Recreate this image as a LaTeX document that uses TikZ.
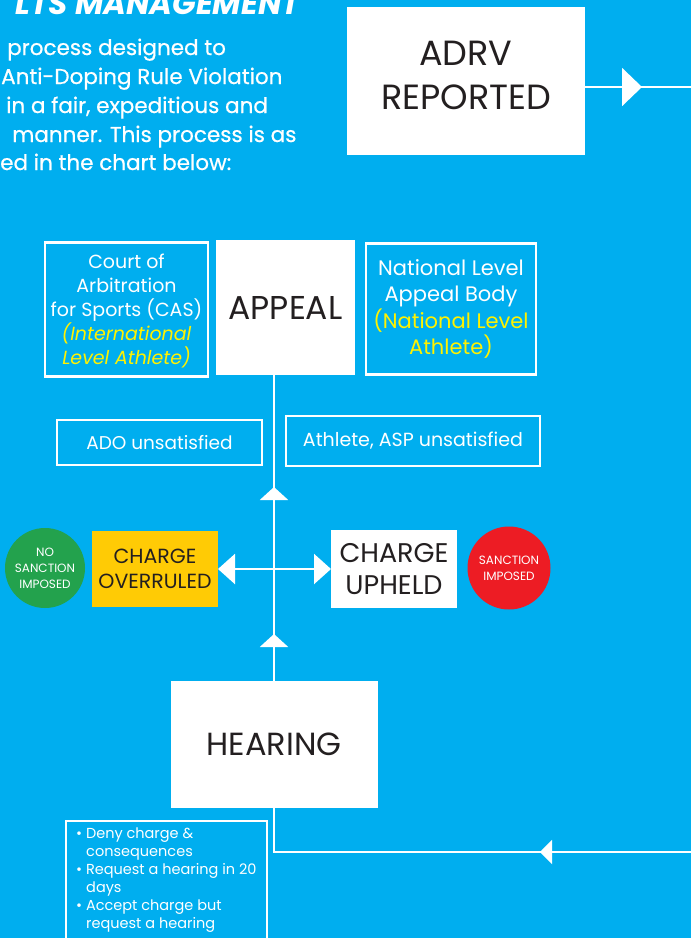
\documentclass[tikz,border=0pt]{standalone}
\usepackage{fontspec}
\setmainfont{Poppins}
\newfontfamily\medfont{Poppins}[FakeBold=0.6]
\usetikzlibrary{arrows.meta,decorations.markings}
\definecolor{sky}{HTML}{00AEEF}
\definecolor{ink}{HTML}{231F20}
\definecolor{lemon}{HTML}{FFF200}
\definecolor{amber}{HTML}{FFCB05}
\definecolor{leaf}{HTML}{23A24D}
\definecolor{alarm}{HTML}{ED1C24}
\newcommand{\pxsize}[2]{\fontsize{#1}{#2}\selectfont}
\tikzset{
  whitebox/.style={fill=white, text=ink, inner sep=0pt, outer sep=0pt, align=center},
  linebox/.style={draw=white, line width=2.4pt, text=white, inner sep=0pt, outer sep=0pt, align=center},
  intro/.style={anchor=base west, text=white, inner sep=0pt, font=\medfont\pxsize{21.5}{21.5}},
  flow/.style={draw=white, line width=2.2pt},
  dot/.style={circle, inner sep=0pt, outer sep=0pt, text=white, align=center, font=\pxsize{12}{16}},
  bigtip/.tip={Triangle[length=20pt,width=38pt]},
  uptip/.tip={Triangle[length=13pt,width=28pt]},
  sidetip/.tip={Triangle[length=17pt,width=30pt]},
  lefttip/.tip={Triangle[length=12pt,width=24pt]},
  midtip/.style 2 args={postaction={decorate},
    decoration={markings, mark=at position #1 with {\arrow{#2}}}}
}

\begin{document}
\begin{tikzpicture}[x=1pt, y=-1pt]
		%%%%% FRAME %%%%%
		\useasboundingbox (0,0) rectangle (691,938);
		\clip (0,0) rectangle (691,938);
		\fill[sky] (0,0) rectangle (691,938);
		
		%%%%% HEADING %%%%%
		\node[anchor=base east, text=white, inner sep=0pt, font=\pxsize{31}{31}\bfseries\itshape] (title) at (300,14)
			{LTS MANAGEMENT};
		\node[intro] (intro1) at (7,55) {process designed to};
		\node[intro] (intro2) at (1,84) {Anti-Doping Rule Violation};
		\node[intro] (intro3) at (6,113) {in a fair, expeditious and};
		\node[intro] (intro4) at (12,142) {manner. This process is as};
		\node[intro] (intro5) at (0,170) {ed in the chart below:};
		
		%%%%% BOXES %%%%%
		\node[whitebox, minimum width=238, minimum height=148] (adrv) at (466,81) {};
		\node[text=ink, inner sep=0pt, align=center, font=\pxsize{35}{44}] (adrvtext) at ([yshift=6pt]adrv.center)
			{ADRV\\REPORTED};
		
		\node[whitebox, minimum width=139, minimum height=135, font=\pxsize{33}{33}] (appeal) at (285.5,307.5)
			{APPEAL};
		\node[linebox, minimum width=163, minimum height=134, font=\pxsize{19}{24}, text depth=0pt] (cas) at (126.5,309.5)
			{Court of\\Arbitration\\for Sports (CAS)\\
			 \color{lemon}\itshape (International\\\color{lemon}\itshape Level Athlete)};
		\node[linebox, minimum width=170, minimum height=131, font=\pxsize{21}{26.5}] (national) at (451,309)
			{National Level\\Appeal Body\\
			 \color{lemon}(National Level\\\color{lemon}Athlete)};
		
		\node[linebox, minimum width=205, minimum height=45, font=\pxsize{18.5}{18.5}] (ado) at (159.5,442.5)
			{ADO unsatisfied};
		\node[linebox, minimum width=254, minimum height=50, font=\pxsize{19}{19}] (athlete) at (413,441)
			{Athlete, ASP unsatisfied};
		
		\node[whitebox, fill=amber, minimum width=126, minimum height=76, font=\pxsize{20.5}{25}] (overruled) at (155,569)
			{CHARGE\\OVERRULED};
		\node[whitebox, minimum width=126, minimum height=78, font=\pxsize{27}{32}] (upheld) at (394,569)
			{CHARGE\\UPHELD};
		\node[dot, fill=leaf, minimum size=80] (nosanction) at (45,568)
			{NO\\SANCTION\\IMPOSED};
		\node[dot, fill=alarm, minimum size=83] (sanction) at (509,568)
			{SANCTION\\IMPOSED};
		
		\node[whitebox, minimum width=207, minimum height=127, font=\pxsize{32}{32}] (hearing) at (274,744.5)
			{HEARING};
		
		\node[linebox, anchor=north, minimum width=201, minimum height=140] (optbox) at (166.5,821) {};
		\node[anchor=north west, text=white, inner sep=0pt, align=left, font=\pxsize{14.5}{18}] (optlist) at (76,828)
			{\textbullet\ Deny charge \&\\
			 \hspace*{10pt}consequences\\
			 \textbullet\ Request a hearing in 20\\
			 \hspace*{10pt}days\\
			 \textbullet\ Accept charge but\\
			 \hspace*{10pt}request a hearing};
		
		%%%%% CONNECTORS %%%%%
		\coordinate (rightout) at (691,87);
		\coordinate (bottomin) at (691,852);
		\coordinate (cross) at (hearing.north |- upheld.west);
		
		\draw[flow, midtip={57pt}{bigtip}] (adrv.east |- rightout) -- (rightout);
		\draw[flow, postaction={decorate}, decoration={markings,
			mark=at position 47pt with {\arrow{uptip}},
			mark=at position 194pt with {\arrow{uptip}}}]
			(hearing.north) -- (hearing.north |- appeal.south);
		\draw[flow, -{sidetip}] (cross) -- (overruled.east);
		\draw[flow, -{sidetip}] (cross) -- (upheld.west);
		\draw[flow, midtip={151pt}{lefttip}] (bottomin) -- (hearing.south |- bottomin) -- (hearing.south);
\end{tikzpicture}
\end{document}
